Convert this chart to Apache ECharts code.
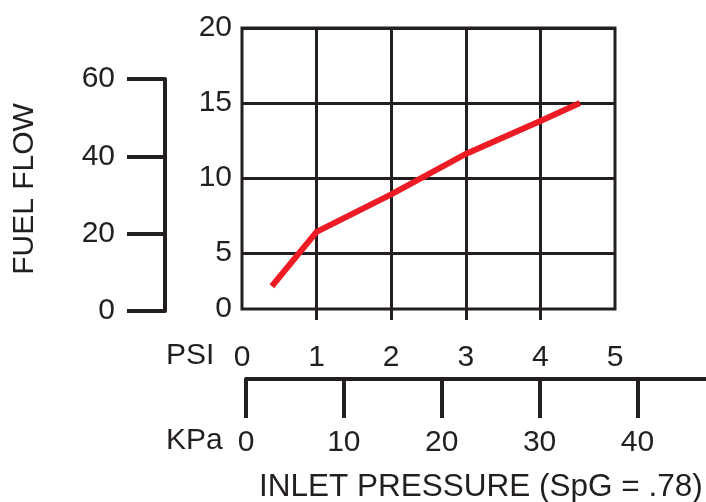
<!DOCTYPE html>
<html><head><meta charset="utf-8">
<script src="https://cdn.jsdelivr.net/npm/echarts@6/dist/echarts.min.js"></script>
<style>html,body{margin:0;padding:0;background:#fff}#c{width:706px;height:502px}</style>
</head><body><div id="c"></div>
<script>
// Data
const inletPsi = [0.4, 1, 2, 3, 4, 4.53];
const flowScale = [2.77, 6.4, 8.9, 11.6, 13.8, 15.0];
const psiTicks = [0, 1, 2, 3, 4, 5];
const psiInnerTicks = [1, 2, 3, 4];
const flowTickValues = [1.25, 5, 10, 15, 20];
const flowTickLabels = ['0', '5', '10', '15', '20'];
const kpaTicks = [0, 10, 20, 30, 40];
const fuelFlowTicks = [0, 20, 40, 60];

const INK = '#231f20';
const RED = '#ed1c24';
const FONT = 'Liberation Sans';

const chart = echarts.init(document.getElementById('c'));
chart.setOption({
  animation: false,
  textStyle: { fontFamily: FONT, color: INK },
  grid: [
    { left: 242, top: 28, width: 373, height: 281, show: true, borderWidth: 3, borderColor: INK, containLabel: false },
    { left: 246, top: 379, right: 0, height: 40, containLabel: false },
    { left: 165, top: 79, width: 20, height: 232, containLabel: false }
  ],
  xAxis: [
    {
      gridIndex: 0, type: 'value', min: psiTicks[0], max: psiTicks[psiTicks.length - 1], interval: 1,
      axisLine: { show: false },
      axisTick: { show: true, customValues: psiInnerTicks, length: 11, lineStyle: { width: 3, color: INK } },
      splitLine: { show: true, lineStyle: { width: 3, color: INK } },
      axisLabel: { fontSize: 30, color: INK, fontFamily: FONT, margin: 34 }
    },
    {
      gridIndex: 1, type: 'value', position: 'top', min: 0, max: 47,
      axisLine: { show: true, onZero: false, lineStyle: { width: 4, color: INK } },
      axisTick: { show: true, inside: true, customValues: kpaTicks, length: 39, lineStyle: { width: 4, color: INK } },
      splitLine: { show: false },
      axisLabel: { inside: true, customValues: kpaTicks, fontSize: 30, color: INK, fontFamily: FONT, margin: 49 }
    },
    { gridIndex: 2, type: 'value', show: false, min: 0, max: 1 }
  ],
  yAxis: [
    {
      gridIndex: 0, type: 'value', min: 1.25, max: 20,
      axisLine: { show: false },
      axisTick: { show: false, customValues: [5, 10, 15, 20] },
      splitLine: { show: true, lineStyle: { width: 3, color: INK } },
      axisLabel: {
        customValues: flowTickValues, fontSize: 30, color: INK, fontFamily: FONT, margin: 10,
        padding: [0, 0, 8, 0],
        formatter: v => flowTickLabels[flowTickValues.indexOf(v)]
      }
    },
    { gridIndex: 1, type: 'value', show: false, min: 0, max: 1 },
    {
      gridIndex: 2, type: 'value', position: 'left', min: fuelFlowTicks[0], max: fuelFlowTicks[fuelFlowTicks.length - 1], interval: 20,
      name: 'FUEL FLOW', nameLocation: 'middle', nameRotate: 90, nameGap: 125,
      nameTextStyle: { fontSize: 30, color: INK, fontFamily: FONT, padding: [0, 0, 0, 12] },
      axisLine: { show: true, onZero: false, lineStyle: { width: 4, color: INK } },
      axisTick: { show: true, length: 38, lineStyle: { width: 4, color: INK } },
      splitLine: { show: false },
      axisLabel: { fontSize: 30, color: INK, fontFamily: FONT, margin: 50 }
    }
  ],
  graphic: [
    { type: 'text', left: 166, top: 341, style: { text: 'PSI', font: '30px "Liberation Sans"', fill: INK } },
    { type: 'text', left: 166, top: 426, style: { text: 'KPa', font: '30px "Liberation Sans"', fill: INK } },
    { type: 'text', left: 259, top: 471, style: { text: 'INLET PRESSURE (SpG = .78)', font: '31.5px "Liberation Sans"', fill: INK } }
  ],
  series: [
    {
      type: 'line', xAxisIndex: 0, yAxisIndex: 0,
      data: inletPsi.map((x, i) => [x, flowScale[i]]),
      symbol: 'none', smooth: false,
      lineStyle: { width: 6, color: RED, cap: 'butt', join: 'miter' },
      z: 5
    }
  ]
});
</script>
</body></html>
